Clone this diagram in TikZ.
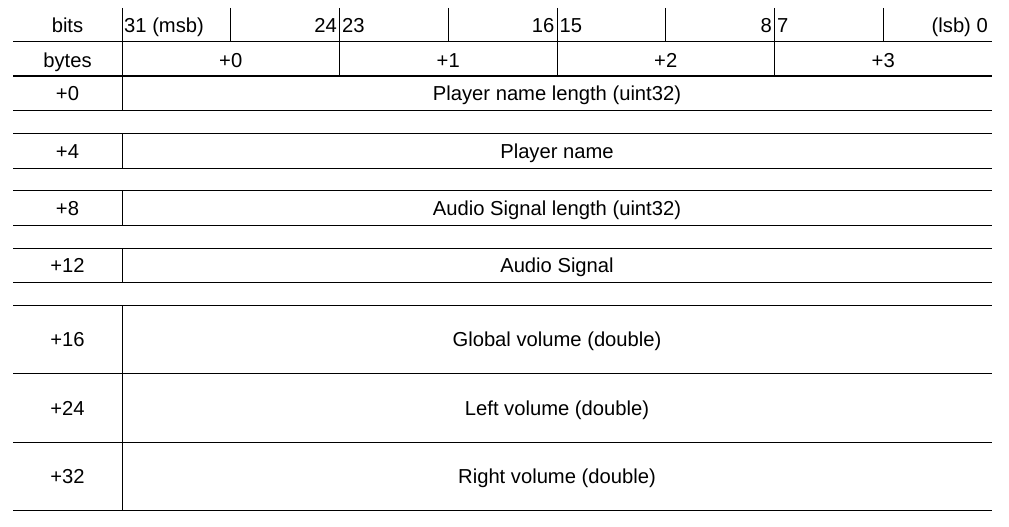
\documentclass[tikz,border=0pt]{standalone}
\usepackage{fontspec}
\setmainfont{Liberation Sans}
\begin{document}
\begin{tikzpicture}[x=1pt,y=-1pt,
  rule/.style={line width=1pt,black},
  lbl/.style={inner sep=0pt,anchor=base,font=\fontsize{20.2}{24}\selectfont},
  lblw/.style={lbl,anchor=base west},
  lble/.style={lbl,anchor=base east}]
\useasboundingbox (0,0) rectangle (1009,527);
% column positions
\def\xl{13}\def\xd{122}\def\xr{992}
% horizontal rules
\foreach \y in {42,76,110,133,168,190,225,248,282,305,373,442,510}
  \draw[rule] (\xl,\y) -- (\xr,\y);
% label column divider, broken at the spacer rows
\draw[rule] (\xd,8) -- (\xd,110);
\draw[rule] (\xd,133) -- (\xd,168);
\draw[rule] (\xd,190) -- (\xd,225);
\draw[rule] (\xd,248) -- (\xd,282);
\draw[rule] (\xd,305) -- (\xd,510);
% bit ticks
\foreach \x in {230.75,339.5,448.25,557,665.75,774.5,883.25}
  \draw[rule] (\x,8) -- (\x,42);
% byte dividers
\foreach \x in {339.5,557,774.5}
  \draw[rule] (\x,42) -- (\x,76);
% header: bits
\node[lbl]  (hbits) at (67.5,33) {bits};
\node[lblw] (b31) at (124,33) {31 (msb)};
\node[lble] (b24) at (337,33) {24};
\node[lblw] (b23) at (342,33) {23};
\node[lble] (b16) at (554.5,33) {16};
\node[lblw] (b15) at (559.5,33) {15};
\node[lble] (b8)  at (772,33) {8};
\node[lblw] (b7)  at (777,33) {7};
\node[lble] (b0)  at (988,33) {(lsb) 0};
% header: bytes
\node[lbl] (hbytes) at (67.5,67.5) {bytes};
\node[lbl] (y0) at (230.75,67.5) {+0};
\node[lbl] (y1) at (448.25,67.5) {+1};
\node[lbl] (y2) at (665.75,67.5) {+2};
\node[lbl] (y3) at (883.25,67.5) {+3};
% fields
\node[lbl] (o0)  at (67.5,100.5) {+0};
\node[lbl] (f0)  at (557,100.5) {Player name length (uint32)};
\node[lbl] (o4)  at (67.5,158) {+4};
\node[lbl] (f4)  at (557,158) {Player name};
\node[lbl] (o8)  at (67.5,215) {+8};
\node[lbl] (f8)  at (557,215) {Audio Signal length (uint32)};
\node[lbl] (o12) at (67.5,272.5) {+12};
\node[lbl] (f12) at (557,272.5) {Audio Signal};
\node[lbl] (o16) at (67.5,346.5) {+16};
\node[lbl] (f16) at (557,346.5) {Global volume (double)};
\node[lbl] (o24) at (67.5,415) {+24};
\node[lbl] (f24) at (557,415) {Left volume (double)};
\node[lbl] (o32) at (67.5,483.5) {+32};
\node[lbl] (f32) at (557,483.5) {Right volume (double)};
\end{tikzpicture}
\end{document}
